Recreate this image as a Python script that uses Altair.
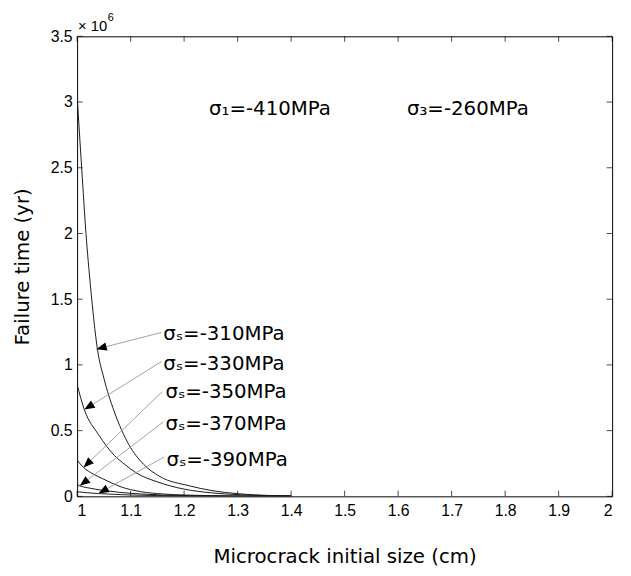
import math
import altair as alt
import pandas as pd

# ---- data (failure time in units of 10^6 yr) ----
x_310 = [1.000, 1.0085, 1.0166, 1.025, 1.038, 1.050, 1.069, 1.0965, 1.124, 1.155, 1.21, 1.25, 1.30, 1.35, 1.40]
y_310 = [3.05, 2.50, 2.00, 1.60, 1.12, 0.90, 0.65, 0.395, 0.245, 0.15, 0.08, 0.045, 0.02, 0.008, 0.003]

x_330 = [1.000, 1.0135, 1.040, 1.070, 1.090, 1.110, 1.150, 1.200, 1.250, 1.300, 1.350, 1.400]
y_330 = [0.85, 0.66, 0.47, 0.31, 0.24, 0.18, 0.11, 0.055, 0.027, 0.013, 0.006, 0.003]

x_350 = [1.000, 1.012, 1.030, 1.050, 1.080, 1.120, 1.160, 1.200, 1.250, 1.300, 1.350, 1.400]
y_350 = [0.275, 0.22, 0.17, 0.13, 0.075, 0.035, 0.018, 0.010, 0.005, 0.002, 0.001, 0.0005]

x_370 = [1.000, 1.005, 1.020, 1.050, 1.080, 1.120, 1.160, 1.200, 1.300, 1.400]
y_370 = [0.09, 0.08, 0.065, 0.045, 0.030, 0.018, 0.010, 0.006, 0.002, 0.0007]

x_390 = [1.000, 1.020, 1.040, 1.070, 1.100, 1.150, 1.200, 1.300, 1.400]
y_390 = [0.035, 0.027, 0.021, 0.015, 0.010, 0.006, 0.003, 0.001, 0.0003]

series_names = ["-310MPa", "-330MPa", "-350MPa", "-370MPa", "-390MPa"]
series_x = [x_310, x_330, x_350, x_370, x_390]
series_y = [y_310, y_330, y_350, y_370, y_390]

# annotation labels and arrows
ann_text = ["σₛ=-310MPa", "σₛ=-330MPa", "σₛ=-350MPa", "σₛ=-370MPa", "σₛ=-390MPa"]
ann_x = [1.161, 1.161, 1.165, 1.165, 1.167]
ann_y = [1.234, 1.008, 0.791, 0.551, 0.275]
tail_x = [1.158, 1.158, 1.159, 1.161, 1.163]
tail_y = [1.247, 1.026, 0.796, 0.566, 0.300]
tip_x = [1.036, 1.0135, 1.012, 1.005, 1.040]
tip_y = [1.12, 0.66, 0.22, 0.08, 0.022]

top_text = ["σ₁=-410MPa", "σ₃=-260MPa"]
top_x = [1.2466, 1.6165]
top_y = [2.95, 2.95]

x_ticks = [1, 1.1, 1.2, 1.3, 1.4, 1.5, 1.6, 1.7, 1.8, 1.9, 2]
y_ticks = [0, 0.5, 1, 1.5, 2, 2.5, 3, 3.5]

W, H = 542, 466
X_DOM = [1, 2]
Y_DOM = [0, 3.5]

# ---- tables ----
rows = []
for name, xs_, ys_ in zip(series_names, series_x, series_y):
    for i, (a, b) in enumerate(zip(xs_, ys_)):
        rows.append({"series": name, "x": a, "y": b, "o": i})
curves = pd.DataFrame(rows)

px_x = W / (X_DOM[1] - X_DOM[0])
px_y = H / (Y_DOM[1] - Y_DOM[0])
angles = []
for tx, ty, hx, hy in zip(tail_x, tail_y, tip_x, tip_y):
    dx = (hx - tx) * px_x
    dy = -(hy - ty) * px_y
    angles.append(math.degrees(math.atan2(dy, dx)) % 360)

ann = pd.DataFrame({"text": ann_text, "x": ann_x, "y": ann_y,
                    "tx": tail_x, "ty": tail_y, "hx": tip_x, "hy": tip_y,
                    "angle": angles})
tops = pd.DataFrame({"text": top_text, "x": top_x, "y": top_y})
xt = pd.DataFrame({"v": x_ticks})
yt = pd.DataFrame({"v": y_ticks})
corner = pd.DataFrame({"x": [X_DOM[0]], "y": [Y_DOM[1]], "base": ["× 10"], "exp": ["6"]})

xs = alt.Scale(domain=X_DOM, nice=False, zero=False)
ys = alt.Scale(domain=Y_DOM, nice=False)

x_axis = alt.Axis(values=x_ticks, format="~g", title="Microcrack initial size (cm)",
                  domain=False, ticks=False, grid=False, labelPadding=6,
                  titlePadding=29)
y_axis = alt.Axis(values=y_ticks, format="~g", title="Failure time (yr)",
                  domain=False, ticks=False, grid=False, labelPadding=5,
                  titlePadding=18)

lines = alt.Chart(curves).mark_line(color="#1a1a1a", strokeWidth=1, interpolate="monotone", clip=True).encode(
    x=alt.X("x:Q", scale=xs, axis=x_axis),
    y=alt.Y("y:Q", scale=ys, axis=y_axis),
    detail="series:N",
    order="o:Q",
)

arrows = alt.Chart(ann).mark_rule(color="#8a8a8a", strokeWidth=0.8).encode(
    x=alt.X("tx:Q", scale=xs), y=alt.Y("ty:Q", scale=ys),
    x2="hx:Q", y2="hy:Q",
)

heads = alt.Chart(ann).mark_point(shape="M0,0 L-2,-0.8 L-2,0.8 Z", filled=True, color="black",
                                  opacity=1, size=110, strokeWidth=0).encode(
    x=alt.X("hx:Q", scale=xs), y=alt.Y("hy:Q", scale=ys),
    angle=alt.Angle("angle:Q", scale=None),
)

labels = alt.Chart(ann).mark_text(align="left", baseline="middle", font="DejaVu Sans",
                                  fontSize=20, color="black").encode(
    x=alt.X("x:Q", scale=xs), y=alt.Y("y:Q", scale=ys), text="text:N",
)

top_labels = alt.Chart(tops).mark_text(align="left", baseline="middle", font="DejaVu Sans",
                                       fontSize=20, color="black").encode(
    x=alt.X("x:Q", scale=xs), y=alt.Y("y:Q", scale=ys), text="text:N",
)

expo_base = alt.Chart(corner).mark_text(
    align="left", baseline="alphabetic", font="Liberation Sans", fontSize=15, dx=1, dy=-5, color="black"
).encode(x=alt.X("x:Q", scale=xs), y=alt.Y("y:Q", scale=ys), text="base:N")
expo_pow = alt.Chart(corner).mark_text(
    align="left", baseline="alphabetic", font="Liberation Sans", fontSize=11, dx=31, dy=-16, color="black"
).encode(x=alt.X("x:Q", scale=xs), y=alt.Y("y:Q", scale=ys), text="exp:N")

tick_len = 5.6
bottom_ticks = alt.Chart(xt).mark_tick(orient="vertical", color="black", thickness=1, size=tick_len).encode(
    x=alt.X("v:Q", scale=xs), y=alt.value(H - tick_len / 2))
top_ticks = alt.Chart(xt).mark_tick(orient="vertical", color="black", thickness=1, size=tick_len).encode(
    x=alt.X("v:Q", scale=xs), y=alt.value(tick_len / 2))
left_ticks = alt.Chart(yt).mark_tick(orient="horizontal", color="black", thickness=1, size=tick_len).encode(
    y=alt.Y("v:Q", scale=ys), x=alt.value(tick_len / 2))
right_ticks = alt.Chart(yt).mark_tick(orient="horizontal", color="black", thickness=1, size=tick_len).encode(
    y=alt.Y("v:Q", scale=ys), x=alt.value(W - tick_len / 2))

chart = alt.layer(
    lines, arrows, heads, labels, top_labels, expo_base, expo_pow,
    bottom_ticks, top_ticks, left_ticks, right_ticks,
).properties(
    width=W, height=H,
    autosize=alt.AutoSizeParams(type="none"),
    padding={"left": 70, "top": 25, "right": 11, "bottom": 77},
    background="white",
).configure_view(
    stroke="black", strokeWidth=1,
).configure_axis(
    labelFont="Liberation Sans", labelFontSize=16, labelColor="black",
    titleFont="DejaVu Sans", titleFontSize=20, titleFontWeight="normal", titleColor="black",
)

chart.save("out.html", embed_options={"renderer": "svg", "actions": False})
